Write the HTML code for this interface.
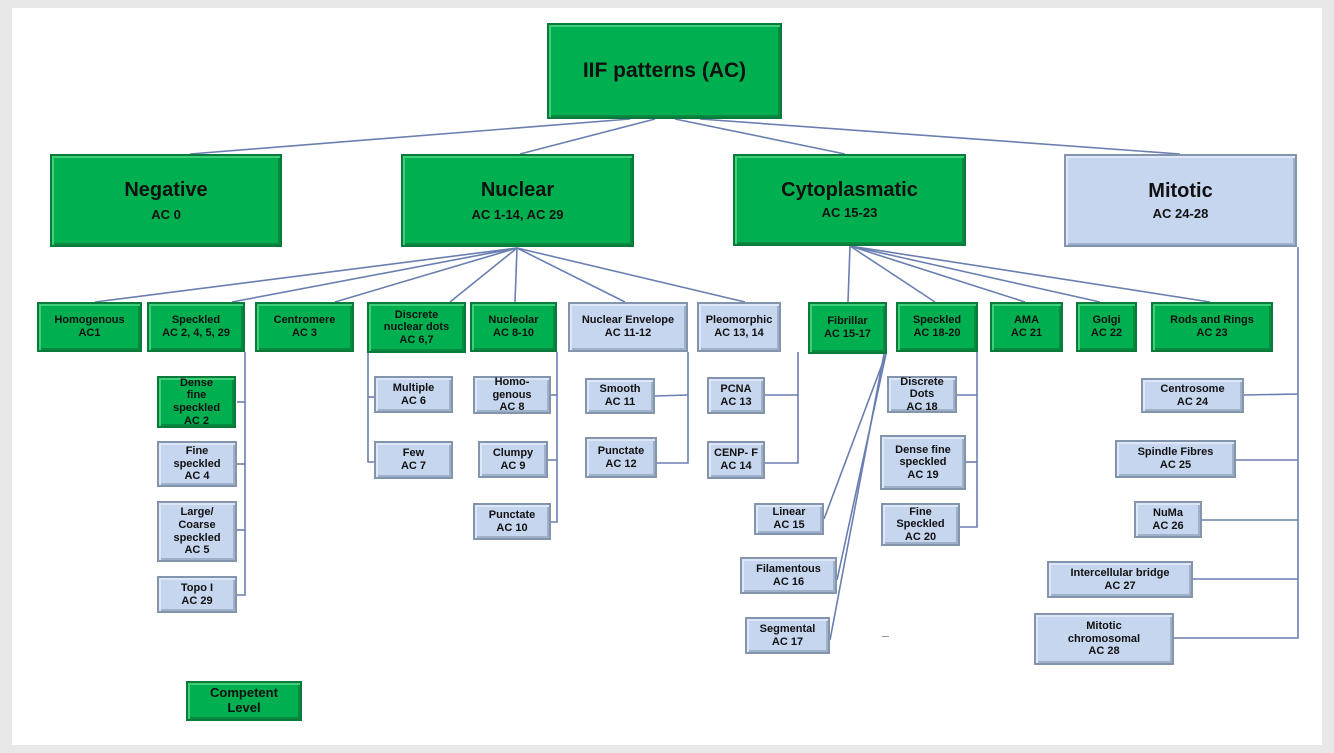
<!DOCTYPE html>
<html><head><meta charset="utf-8"><style>
html,body{margin:0;padding:0}
body{width:1334px;height:753px;background:#e8e8e8;position:relative;overflow:hidden;font-family:"Liberation Sans",Arial,sans-serif}
#frame{position:absolute;left:12px;top:8px;width:1310px;height:737px;background:#fff}
.b{position:absolute;box-sizing:border-box;display:flex;align-items:center;justify-content:center;text-align:center;font-weight:bold;color:#111;line-height:1.15;font-size:11px}
.g{background:#00b050;border:2px solid #0a7a3a;box-shadow:inset 2px 2px 0 #3fcf7a,inset -2px -2px 0 #058a3f}
.l{background:#c6d6ef;border:2px solid #8394ad;box-shadow:inset 2px 2px 0 #dde7f7,inset -2px -2px 0 #9fb0c9}
svg{position:absolute;left:0;top:0}
</style></head><body>
<div id="frame"></div>
<svg width="1334" height="753">
<g stroke="#6a7fb0" stroke-width="1.6" fill="none">
<line x1="630" y1="119" x2="190" y2="154"/>
<line x1="655" y1="119" x2="520" y2="154"/>
<line x1="675" y1="119" x2="845" y2="154"/>
<line x1="700" y1="119" x2="1180" y2="154"/>
<line x1="517" y1="248" x2="95" y2="302"/>
<line x1="517" y1="248" x2="232" y2="302"/>
<line x1="517" y1="248" x2="335" y2="302"/>
<line x1="517" y1="248" x2="450" y2="302"/>
<line x1="517" y1="248" x2="515" y2="302"/>
<line x1="517" y1="248" x2="625" y2="302"/>
<line x1="517" y1="248" x2="745" y2="302"/>
<line x1="850" y1="246" x2="848" y2="302"/>
<line x1="850" y1="246" x2="935" y2="302"/>
<line x1="850" y1="246" x2="1025" y2="302"/>
<line x1="850" y1="246" x2="1100" y2="302"/>
<line x1="850" y1="246" x2="1210" y2="302"/>
<polyline points="1298,247 1298,638 1174,638"/>
<line x1="1244" y1="395" x2="1298" y2="394"/>
<line x1="1236" y1="460" x2="1298" y2="460"/>
<line x1="1202" y1="520" x2="1298" y2="520"/>
<line x1="1193" y1="579" x2="1298" y2="579"/>
<polyline points="245,352 245,595 237,595"/>
<line x1="237" y1="402" x2="245" y2="402"/><line x1="237" y1="464" x2="245" y2="464"/><line x1="237" y1="530" x2="245" y2="530"/>
<polyline points="368,353 368,462 374,462"/><line x1="368" y1="397" x2="374" y2="397"/>
<polyline points="557,352 557,522 551,522"/><line x1="551" y1="395" x2="557" y2="395"/><line x1="548" y1="460" x2="557" y2="460"/>
<polyline points="688,352 688,463 657,463"/><line x1="655" y1="396" x2="688" y2="395"/>
<polyline points="798,352 798,463 765,463"/><line x1="765" y1="395" x2="798" y2="395"/>
<polyline points="977,352 977,527 960,527"/><line x1="957" y1="395" x2="977" y2="395"/><line x1="966" y1="462" x2="977" y2="462"/>
<line x1="886" y1="354" x2="824" y2="519"/>
<line x1="886" y1="354" x2="837" y2="580"/>
<line x1="884" y1="354" x2="830" y2="640"/>
</g>
</svg>
<div class="b g" style="left:547px;top:23px;width:235px;height:96px;font-size:21px">IIF patterns (AC)</div>
<div class="b g" style="left:50px;top:154px;width:232px;height:93px;font-size:20px;flex-direction:column"><div>Negative</div><div style="font-size:13px;margin-top:6px">AC 0</div></div>
<div class="b g" style="left:401px;top:154px;width:233px;height:93px;font-size:20px;flex-direction:column"><div>Nuclear</div><div style="font-size:13px;margin-top:6px">AC 1-14, AC 29</div></div>
<div class="b g" style="left:733px;top:154px;width:233px;height:92px;font-size:20px;flex-direction:column"><div>Cytoplasmatic</div><div style="font-size:13px;margin-top:4px">AC 15-23</div></div>
<div class="b l" style="left:1064px;top:154px;width:233px;height:93px;font-size:20px;flex-direction:column"><div>Mitotic</div><div style="font-size:13px;margin-top:4px">AC 24-28</div></div>

<div class="b g" style="left:37px;top:302px;width:105px;height:50px">Homogenous<br>AC1</div>
<div class="b g" style="left:147px;top:302px;width:98px;height:50px">Speckled<br>AC 2, 4, 5, 29</div>
<div class="b g" style="left:255px;top:302px;width:99px;height:50px">Centromere<br>AC 3</div>
<div class="b g" style="left:367px;top:302px;width:99px;height:51px">Discrete<br>nuclear dots<br>AC 6,7</div>
<div class="b g" style="left:470px;top:302px;width:87px;height:50px">Nucleolar<br>AC 8-10</div>
<div class="b l" style="left:568px;top:302px;width:120px;height:50px">Nuclear Envelope<br>AC 11-12</div>
<div class="b l" style="left:697px;top:302px;width:84px;height:50px">Pleomorphic<br>AC 13, 14</div>
<div class="b g" style="left:808px;top:302px;width:79px;height:52px">Fibrillar<br>AC 15-17</div>
<div class="b g" style="left:896px;top:302px;width:82px;height:50px">Speckled<br>AC 18-20</div>
<div class="b g" style="left:990px;top:302px;width:73px;height:50px">AMA<br>AC 21</div>
<div class="b g" style="left:1076px;top:302px;width:61px;height:50px">Golgi<br>AC 22</div>
<div class="b g" style="left:1151px;top:302px;width:122px;height:50px">Rods and Rings<br>AC 23</div>

<div class="b g" style="left:157px;top:376px;width:79px;height:52px">Dense<br>fine<br>speckled<br>AC 2</div>
<div class="b l" style="left:157px;top:441px;width:80px;height:46px">Fine<br>speckled<br>AC 4</div>
<div class="b l" style="left:157px;top:501px;width:80px;height:61px">Large/<br>Coarse<br>speckled<br>AC 5</div>
<div class="b l" style="left:157px;top:576px;width:80px;height:37px">Topo I<br>AC 29</div>
<div class="b l" style="left:374px;top:376px;width:79px;height:37px">Multiple<br>AC 6</div>
<div class="b l" style="left:374px;top:441px;width:79px;height:38px">Few<br>AC 7</div>
<div class="b l" style="left:473px;top:376px;width:78px;height:38px">Homo-<br>genous<br>AC 8</div>
<div class="b l" style="left:478px;top:441px;width:70px;height:37px">Clumpy<br>AC 9</div>
<div class="b l" style="left:473px;top:503px;width:78px;height:37px">Punctate<br>AC 10</div>
<div class="b l" style="left:585px;top:378px;width:70px;height:36px">Smooth<br>AC 11</div>
<div class="b l" style="left:585px;top:437px;width:72px;height:41px">Punctate<br>AC 12</div>
<div class="b l" style="left:707px;top:377px;width:58px;height:37px">PCNA<br>AC 13</div>
<div class="b l" style="left:707px;top:441px;width:58px;height:38px">CENP- F<br>AC 14</div>
<div class="b l" style="left:754px;top:503px;width:70px;height:32px">Linear<br>AC 15</div>
<div class="b l" style="left:740px;top:557px;width:97px;height:37px">Filamentous<br>AC 16</div>
<div class="b l" style="left:745px;top:617px;width:85px;height:37px">Segmental<br>AC 17</div>
<div class="b l" style="left:887px;top:376px;width:70px;height:37px">Discrete<br>Dots<br>AC 18</div>
<div class="b l" style="left:880px;top:435px;width:86px;height:55px">Dense fine<br>speckled<br>AC 19</div>
<div class="b l" style="left:881px;top:503px;width:79px;height:43px">Fine<br>Speckled<br>AC 20</div>
<div class="b l" style="left:1141px;top:378px;width:103px;height:35px">Centrosome<br>AC 24</div>
<div class="b l" style="left:1115px;top:440px;width:121px;height:38px">Spindle Fibres<br>AC 25</div>
<div class="b l" style="left:1134px;top:501px;width:68px;height:37px">NuMa<br>AC 26</div>
<div class="b l" style="left:1047px;top:561px;width:146px;height:37px">Intercellular bridge<br>AC 27</div>
<div class="b l" style="left:1034px;top:613px;width:140px;height:52px">Mitotic<br>chromosomal<br>AC 28</div>
<div class="b g" style="left:186px;top:681px;width:116px;height:40px;font-size:13px">Competent<br>Level</div>
<div style="position:absolute;left:882px;top:636px;width:7px;height:1px;background:#999"></div>
</body></html>
